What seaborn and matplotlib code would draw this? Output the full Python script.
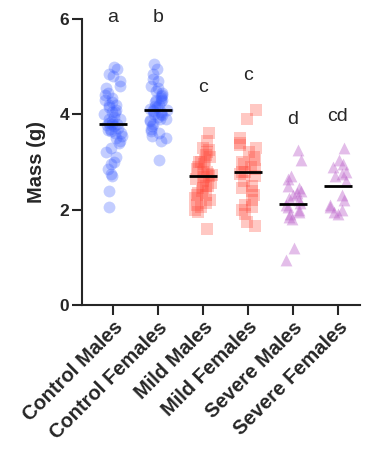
import numpy as np
import pandas as pd
import matplotlib
matplotlib.use("Agg")
import matplotlib.pyplot as plt
import seaborn as sns

groups = ["Control Males", "Control Females", "Mild Males", "Mild Females", "Severe Males", "Severe Females"]

control_males = [5.0, 4.95, 4.85, 4.8, 4.7, 4.6, 4.55, 4.45, 4.4, 4.35, 4.3, 4.25, 4.2, 4.15, 4.1,
                 4.05, 4.0, 3.95, 3.9, 3.85, 3.82, 3.8, 3.8, 3.78, 3.75, 3.72, 3.7, 3.68, 3.65, 3.6,
                 3.55, 3.5, 3.45, 3.4, 3.3, 3.2, 3.1, 3.0, 2.95, 2.85, 2.75, 2.7, 2.4, 2.05, 4.05,
                 3.9, 3.6, 4.2]
control_females = [5.05, 4.95, 4.85, 4.75, 4.7, 4.6, 4.55, 4.5, 4.45, 4.4, 4.38, 4.35, 4.3, 4.28,
                   4.25, 4.2, 4.18, 4.15, 4.12, 4.1, 4.1, 4.08, 4.05, 4.0, 3.98, 3.95, 3.9, 3.88,
                   3.85, 3.8, 3.75, 3.7, 3.65, 3.6, 3.55, 3.5, 3.45, 3.05, 4.3, 4.0, 3.9]
mild_males = [3.6, 3.45, 3.3, 3.25, 3.2, 3.15, 3.1, 3.05, 3.0, 2.95, 2.9, 2.85, 2.8, 2.75, 2.72,
              2.7, 2.68, 2.65, 2.6, 2.55, 2.5, 2.45, 2.4, 2.35, 2.3, 2.25, 2.2, 2.15, 2.1, 2.05,
              2.0, 1.95, 1.6, 2.5, 2.8, 3.0, 2.3]
mild_females = [4.1, 3.9, 3.5, 3.4, 3.35, 3.3, 3.2, 3.1, 3.0, 2.95, 2.9, 2.85, 2.8, 2.75, 2.7,
                2.6, 2.5, 2.45, 2.4, 2.3, 2.2, 2.1, 2.05, 2.0, 1.9, 1.75, 1.65, 2.8, 3.05]
severe_males = [3.25, 3.05, 2.7, 2.65, 2.5, 2.45, 2.4, 2.35, 2.3, 2.25, 2.2, 2.15, 2.1, 2.05,
                2.0, 1.95, 1.9, 1.85, 1.8, 1.2, 0.95]
severe_females = [3.3, 3.05, 2.95, 2.9, 2.8, 2.75, 2.7, 2.6, 2.3, 2.2, 2.1, 2.05, 2.0, 1.95, 1.9]

centers = [3.8, 4.1, 2.7, 2.8, 2.12, 2.5]
letters = ["a", "b", "c", "c", "d", "cd"]
letter_y = [5.93, 5.93, 4.47, 4.72, 3.8, 3.85]

values = [control_males, control_females, mild_males, mild_females, severe_males, severe_females]
colors = ["#3a5cff", "#3a5cff", "#ff4a3a", "#ff4a3a", "#b95cc8", "#b95cc8"]
markers = ["o", "o", "s", "s", "^", "^"]
alphas = [0.3, 0.3, 0.3, 0.3, 0.4, 0.4]

df = pd.DataFrame({
    "group": [g for g, v in zip(groups, values) for _ in v],
    "mass": [x for v in values for x in v],
})

sns.set_style("ticks")
plt.rcParams["font.family"] = ["Liberation Sans", "DejaVu Sans"]

fig = plt.figure(figsize=(3.67, 4.58), dpi=100)
ax = fig.add_axes([0.2234, 0.334, 0.9810 - 0.2234, 0.9585 - 0.334])

np.random.seed(3)
for g, c, m, a in zip(groups, colors, markers, alphas):
    sub = df[df["group"] == g]
    sns.stripplot(data=sub, x="group", y="mass", order=groups, color=c, marker=m,
                  alpha=a, size=8.5, jitter=0.2, linewidth=0, ax=ax)

for i, c in enumerate(centers):
    ax.hlines(c, i - 0.32, i + 0.32, color="black", linewidth=2, zorder=5)

for i, (t, y) in enumerate(zip(letters, letter_y)):
    ax.text(i, y, t, ha="center", va="baseline", fontsize=14, clip_on=False)

ax.set_xlim(-0.69, 5.49)
ax.set_ylim(0, 6)
ax.set_yticks([0, 2, 4, 6])
ax.set_ylabel("Mass (g)", fontsize=14.5, fontweight="bold", labelpad=10)
ax.set_xlabel("")
ax.tick_params(axis="both", direction="out", length=7, width=1.5, labelsize=12.5, pad=2)
for lab in ax.get_yticklabels():
    lab.set_fontweight("bold")
ax.set_xticks(range(len(groups)))
ax.set_xticklabels(groups, rotation=45, ha="right", rotation_mode="anchor",
                   fontweight="bold", fontsize=14.5)
sns.despine(ax=ax)
for s in ["left", "bottom"]:
    ax.spines[s].set_linewidth(1.5)

fig.savefig("out.png", dpi=100)
